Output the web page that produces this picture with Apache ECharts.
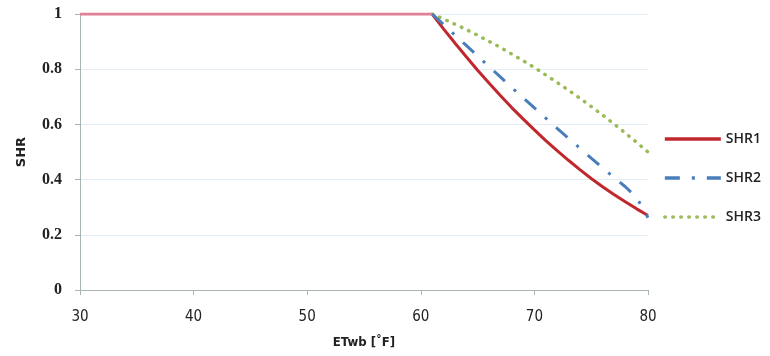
<!DOCTYPE html>
<html><head><meta charset="utf-8">
<script src="https://cdn.jsdelivr.net/npm/echarts@6/dist/echarts.min.js"></script>
<style>html,body{margin:0;padding:0;background:#fff}#c{width:770px;height:356px}</style>
</head><body><div id="c"></div>
<script>
const xFlat = [30, 61];
const xCurve = [61,62,63,64,65,66,67,68,69,70,71,72,73,74,75,76,77,78,79,80];
const shr1 = [1.00,0.946,0.895,0.845,0.796,0.750,0.705,0.661,0.620,0.580,0.541,0.505,0.470,0.436,0.404,0.374,0.346,0.320,0.294,0.270];
const shr2 = [1.00,0.962,0.924,0.886,0.848,0.810,0.772,0.734,0.697,0.660,0.623,0.586,0.550,0.514,0.478,0.443,0.408,0.374,0.335,0.262];
const shr3 = [1.00,0.982,0.963,0.944,0.923,0.901,0.879,0.855,0.831,0.806,0.779,0.752,0.724,0.695,0.665,0.634,0.602,0.569,0.535,0.500];
const flatVal = [1, 1];
const xTicks = [30,40,50,60,70,80];
const yTicks = [0,0.2,0.4,0.6,0.8,1];

const pair = (xs, ys) => xs.map((x,i)=>[x, ys[i]]);
const chart = echarts.init(document.getElementById('c'));
chart.setOption({
  animation:false,
  grid:{left:80,right:122,top:14,bottom:66},
  legend:{
    orient:'vertical', right:4, top:127, itemWidth:56, itemHeight:14, itemGap:25,
    itemStyle:{opacity:0},
    lineStyle:{width:3.5},
    textStyle:{fontFamily:'Open Sans',fontSize:14,fontWeight:600,color:'#222'},
    data:['SHR1','SHR2','SHR3']
  },
  xAxis:{
    type:'value', min:30, max:80, interval:10,
    name:'ETwb [˚F]', nameLocation:'middle', nameGap:46,
    nameTextStyle:{fontFamily:'DejaVu Sans Condensed',fontWeight:'bold',fontSize:13,color:'#222'},
    axisLine:{lineStyle:{color:'#a9b5b5'}},
    axisTick:{show:true,length:5,lineStyle:{color:'#a9b5b5'}},
    axisLabel:{margin:20,fontFamily:'DejaVu Sans Condensed',fontSize:15,color:'#222',formatter:v=>xTicks.includes(v)?String(v):''},
    splitLine:{show:false}
  },
  yAxis:{
    type:'value', min:0, max:1, interval:0.2,
    name:'SHR', nameLocation:'middle', nameGap:52, nameRotate:90,
    nameTextStyle:{fontFamily:'DejaVu Sans',fontWeight:'bold',fontSize:13,color:'#222'},
    axisLine:{show:true,lineStyle:{color:'#a9b5b5'}},
    axisTick:{show:true,length:5,lineStyle:{color:'#a9b5b5'}},
    axisLabel:{margin:18,fontFamily:'Liberation Serif',fontWeight:'bold',fontSize:16,color:'#222',
      formatter:v=>{const t=yTicks.find(k=>Math.abs(k-v)<1e-9);return t===undefined?'':String(t);}},
    splitLine:{show:true,lineStyle:{color:'#e3edf5',width:1}}
  },
  series:[
    {name:'SHR1',type:'line',symbol:'none',data:pair(xCurve,shr1),z:3,
     lineStyle:{color:'#c0282e',width:3},itemStyle:{color:'#c0282e'}},
    {name:'SHR2',type:'line',symbol:'none',data:pair(xCurve,shr2),z:4,
     lineStyle:{color:'#4a7ebb',width:3,type:[15,12,3,12]},itemStyle:{color:'#4a7ebb'}},
    {name:'SHR3',type:'line',symbol:'none',data:pair(xCurve,shr3),z:2,
     lineStyle:{color:'#9bbb59',width:3.5,type:[0.5,7.5],cap:'round'},itemStyle:{color:'#9bbb59'}},
    {name:'flat',type:'line',symbol:'none',data:pair(xFlat,flatVal),z:5,
     lineStyle:{color:'#e07f95',width:3},itemStyle:{color:'#e07f95'}}
  ]
});
</script></body></html>
